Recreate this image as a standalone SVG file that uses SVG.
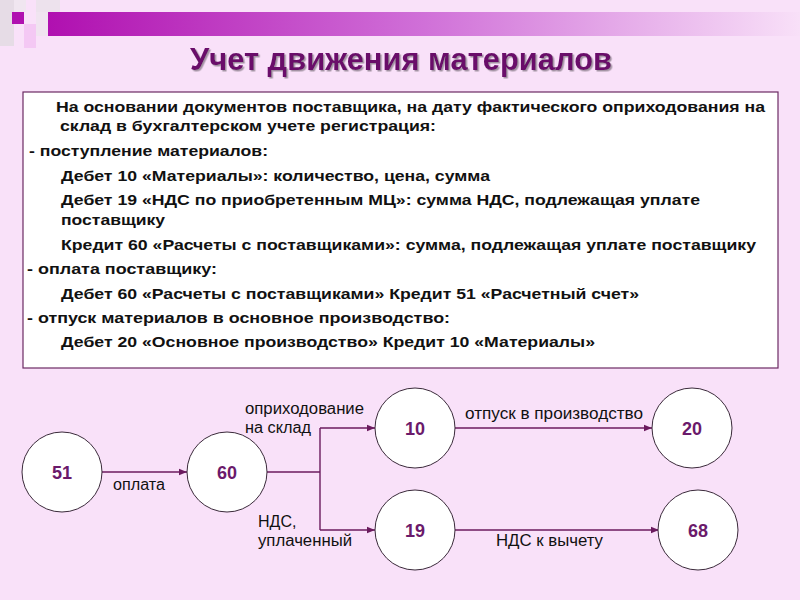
<svg xmlns="http://www.w3.org/2000/svg" width="800" height="600" viewBox="0 0 800 600">
<defs>
<linearGradient id="bar" x1="0" y1="0" x2="1" y2="0">
<stop offset="0" stop-color="#b010b0"/>
<stop offset="0.5" stop-color="#d070d8"/>
<stop offset="1" stop-color="#f8e0f8"/>
</linearGradient>
<marker id="arr" viewBox="0 0 10 10" refX="10" refY="5" markerWidth="8" markerHeight="8" markerUnits="userSpaceOnUse" orient="auto">
<path d="M0,1 L10,5 L0,9 Z" fill="#6b1a5e"/>
</marker>
<filter id="sh" x="-5%" y="-20%" width="110%" height="140%">
<feDropShadow dx="1.5" dy="1.5" stdDeviation="0.6" flood-color="#9a8a9a" flood-opacity="0.9"/>
</filter>
</defs>
<style>
.bg{fill:#f9e1f9}
.box{fill:#ffffff;stroke:#6b2a63;stroke-width:1.2}
.t{font-family:"Liberation Sans",Arial,sans-serif;font-weight:bold;font-size:15px;fill:#111}
.lbl{font-family:"Liberation Sans",Arial,sans-serif;font-size:16px;fill:#111}
.node circle{fill:#ffffff;stroke:#3a2a3a;stroke-width:1}
.node text{font-family:"Liberation Sans",Arial,sans-serif;font-weight:bold;font-size:18px;fill:#6b1a6b;text-anchor:middle}
.conn line,.conn polyline{stroke:#6b1a5e;stroke-width:1.4;fill:none}
.title{font-family:"Liberation Sans",Arial,sans-serif;font-weight:bold;font-size:31px;fill:#6a0a6a}
</style>
<rect class="bg" x="0" y="0" width="800" height="600"/>
<g id="decor">
<rect x="0" y="0" width="14" height="46" fill="#e6dce6"/>
<rect x="14" y="0" width="12" height="12" fill="#f0e6f0"/>
<rect x="36" y="0" width="24" height="12" fill="#ede2ed"/>
<rect x="24" y="24" width="12" height="24" fill="#f4c8f4"/>
<rect x="12" y="12" width="12" height="12" fill="#b010b0"/>
<rect x="36" y="12" width="12" height="24" fill="#f0e4f0"/>
<rect x="48" y="12" width="752" height="24" fill="url(#bar)"/>
</g>
<text class="title" x="190" y="70" textLength="422" lengthAdjust="spacingAndGlyphs" filter="url(#sh)">Учет движения материалов</text>
<g id="textbox">
<rect class="box" x="23" y="92" width="755" height="276"/>
<text class="t" x="56" y="112" textLength="709" lengthAdjust="spacingAndGlyphs">На основании документов поставщика, на дату фактического оприходования на</text>
<text class="t" x="60" y="131" textLength="376" lengthAdjust="spacingAndGlyphs">склад в бухгалтерском учете регистрация:</text>
<text class="t" x="29" y="156" textLength="239" lengthAdjust="spacingAndGlyphs">- поступление материалов:</text>
<text class="t" x="61" y="181" textLength="429" lengthAdjust="spacingAndGlyphs">Дебет 10 «Материалы»: количество, цена, сумма</text>
<text class="t" x="61" y="205" textLength="639" lengthAdjust="spacingAndGlyphs">Дебет 19 «НДС по приобретенным МЦ»: сумма НДС, подлежащая уплате</text>
<text class="t" x="61" y="225" textLength="104" lengthAdjust="spacingAndGlyphs">поставщику</text>
<text class="t" x="61" y="250" textLength="695" lengthAdjust="spacingAndGlyphs">Кредит 60 «Расчеты с поставщиками»: сумма, подлежащая уплате поставщику</text>
<text class="t" x="27" y="274" textLength="190" lengthAdjust="spacingAndGlyphs">- оплата поставщику:</text>
<text class="t" x="61" y="299" textLength="578" lengthAdjust="spacingAndGlyphs">Дебет 60 «Расчеты с поставщиками» Кредит 51 «Расчетный счет»</text>
<text class="t" x="27" y="323" textLength="423" lengthAdjust="spacingAndGlyphs">- отпуск материалов в основное производство:</text>
<text class="t" x="61" y="347" textLength="534" lengthAdjust="spacingAndGlyphs">Дебет 20 «Основное производство» Кредит 10 «Материалы»</text>
</g>
<g class="conn" id="connectors">
<line x1="102" y1="472" x2="187" y2="472" marker-end="url(#arr)"/>
<polyline points="267,472 320,472"/>
<line x1="320" y1="428" x2="320" y2="530"/>
<line x1="320" y1="428" x2="375" y2="428" marker-end="url(#arr)"/>
<line x1="320" y1="530" x2="375" y2="530" marker-end="url(#arr)"/>
<line x1="455" y1="428" x2="652" y2="428" marker-end="url(#arr)"/>
<line x1="455" y1="530" x2="659" y2="530" marker-end="url(#arr)"/>
</g>
<g id="labels">
<text class="lbl" x="113" y="490" textLength="52" lengthAdjust="spacingAndGlyphs">оплата</text>
<text class="lbl" x="245" y="414" textLength="119" lengthAdjust="spacingAndGlyphs">оприходование</text>
<text class="lbl" x="245" y="433" textLength="66" lengthAdjust="spacingAndGlyphs">на склад</text>
<text class="lbl" x="258" y="527">НДС,</text>
<text class="lbl" x="258" y="546" textLength="94" lengthAdjust="spacingAndGlyphs">уплаченный</text>
<text class="lbl" x="465" y="419" textLength="178" lengthAdjust="spacingAndGlyphs">отпуск в производство</text>
<text class="lbl" x="496" y="546" textLength="107" lengthAdjust="spacingAndGlyphs">НДС к вычету</text>
</g>
<g class="node" id="n51"><circle cx="62" cy="472" r="40"/><text x="62" y="479">51</text></g>
<g class="node" id="n60"><circle cx="227" cy="472" r="40"/><text x="227" y="479">60</text></g>
<g class="node" id="n10"><circle cx="415" cy="428" r="40"/><text x="415" y="435">10</text></g>
<g class="node" id="n19"><circle cx="415" cy="530" r="40"/><text x="415" y="537">19</text></g>
<g class="node" id="n20"><circle cx="692" cy="428" r="40"/><text x="692" y="435">20</text></g>
<g class="node" id="n68"><circle cx="698" cy="530" r="40"/><text x="698" y="537">68</text></g>
</svg>
